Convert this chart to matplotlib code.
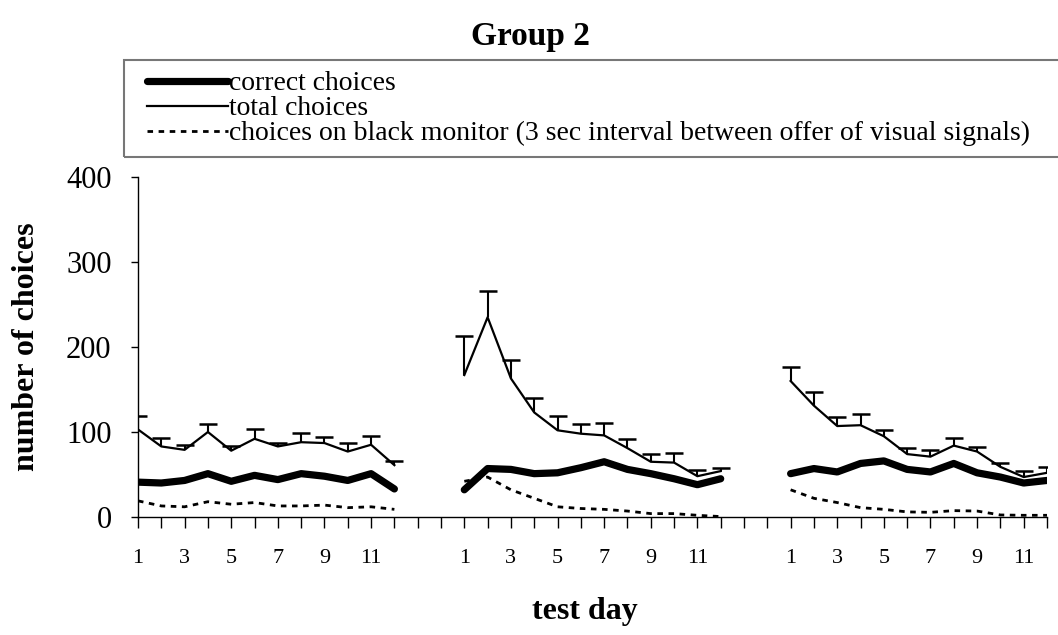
import numpy as np
import matplotlib
matplotlib.use('Agg')
import matplotlib.pyplot as plt
from matplotlib.lines import Line2D
from matplotlib.patches import Rectangle

plt.rcParams['font.family'] = ['Liberation Serif', 'DejaVu Serif']

# --- data ---
days = list(range(1, 13))

seg1_correct = [41, 40, 43, 51, 42, 49, 44, 51, 48, 43, 51, 33]
seg1_total = [103, 83, 79, 100, 78, 92, 83, 88, 87, 77, 85, 61]
seg1_total_err = [16, 10, 6, 9, 6, 12, 4, 11, 7, 10, 10, 5]
seg1_black = [19, 13, 12, 18, 15, 17, 13, 13, 14, 11, 12, 9]

seg2_correct = [32, 57, 56, 51, 52, 58, 65, 56, 51, 45, 38, 45]
seg2_total = [167, 235, 163, 123, 102, 98, 96, 81, 65, 64, 48, 54]
seg2_total_err = [46, 31, 22, 17, 17, 11, 15, 11, 9, 11, 7, 4]
seg2_black = [42, 47, 32, 22, 12, 10, 9, 7, 4, 4, 2, 0.5]

seg3_correct = [51, 57, 53, 63, 66, 56, 53, 63, 52, 47, 40, 43]
seg3_total = [160, 131, 107, 108, 95, 74, 71, 84, 77, 59, 47, 52]
seg3_total_err = [16, 16, 11, 13, 7, 7, 8, 9, 5, 4, 7, 7]
seg3_black = [32, 22, 17, 11, 9, 6, 5.5, 7.5, 7, 2.4, 2, 2]

segments = [
    (seg1_correct, seg1_total, seg1_total_err, seg1_black),
    (seg2_correct, seg2_total, seg2_total_err, seg2_black),
    (seg3_correct, seg3_total, seg3_total_err, seg3_black),
]

# category axis: 12 days, 2 empty slots, 12 days, 2 empty slots, 12 days
gap = 2
categories = []
for i in range(len(segments)):
    categories += [str(d) for d in days]
    if i < len(segments) - 1:
        categories += [''] * gap

W, H = 1058, 635
fig = plt.figure(figsize=(W / 100, H / 100), dpi=100)
ax = fig.add_axes([138 / W, (H - 517) / H, (1047 - 138) / W, (517 - 177) / H])

for i, (correct, total, err, black) in enumerate(segments):
    x = np.arange(len(days)) + i * (len(days) + gap)
    total = np.array(total, dtype=float)
    err = np.array(err, dtype=float)
    # only the upper half of the error bar is drawn
    ax.vlines(x, total, total + err, color='black', lw=1.5, zorder=2)
    ax.plot(x, total + err, ls='none', marker='_', ms=13, mew=1.8, color='black', zorder=2)
    ax.plot(x, total, color='black', lw=1.6, zorder=3)
    ax.plot(x, black, color='black', lw=2.0, dashes=(2, 2), zorder=3)
    ax.plot(x, correct, color='black', lw=5.2, solid_capstyle='round',
            solid_joinstyle='round', zorder=4)

ax.set_xlim(0, len(categories) - 1)
ax.set_ylim(0, 400)
ax.set_yticks([0, 100, 200, 300, 400])
ax.tick_params(axis='y', labelsize=22, length=5, width=1, pad=14, direction='out')
ax.set_xticks(np.arange(len(categories)))
ax.set_xticklabels([c if k % 2 == 0 else '' for k, c in enumerate(categories)])
ax.tick_params(axis='x', labelsize=16, length=8, width=1, pad=15, direction='out')

for s in ['top', 'right']:
    ax.spines[s].set_visible(False)
for s in ['left', 'bottom']:
    ax.spines[s].set_linewidth(1)

fig.text(530 / W, 1 - 37 / H, 'Group 2', ha='center', va='center',
         fontsize=24, fontweight='bold')
fig.text(585 / W, 1 - 612 / H, 'test day', ha='center', va='center',
         fontsize=23, fontweight='bold')
fig.text(27 / W, 1 - 347 / H, 'number of choices', ha='center', va='center',
         rotation=90, fontsize=23, fontweight='bold')

# legend box runs off the right edge
fig.add_artist(Rectangle((124 / W, 1 - 157 / H), 1.0, 97 / H,
                         transform=fig.transFigure, fill=False,
                         ec='#777777', lw=1.5))
handles = [
    Line2D([], [], color='black', lw=5.2, solid_capstyle='round'),
    Line2D([], [], color='black', lw=1.6),
    Line2D([], [], color='black', lw=2.0, dashes=(2, 2)),
]
labels = ['correct choices', 'total choices',
          'choices on black monitor (3 sec interval between offer of visual signals)']
fig.legend(handles, labels, loc='upper left', bbox_to_anchor=(147 / W, 1 - 71 / H),
           frameon=False, fontsize=20, borderpad=0, borderaxespad=0,
           handlelength=2.9, handletextpad=0.05, labelspacing=-0.02)

fig.savefig('out.png', dpi=100)
